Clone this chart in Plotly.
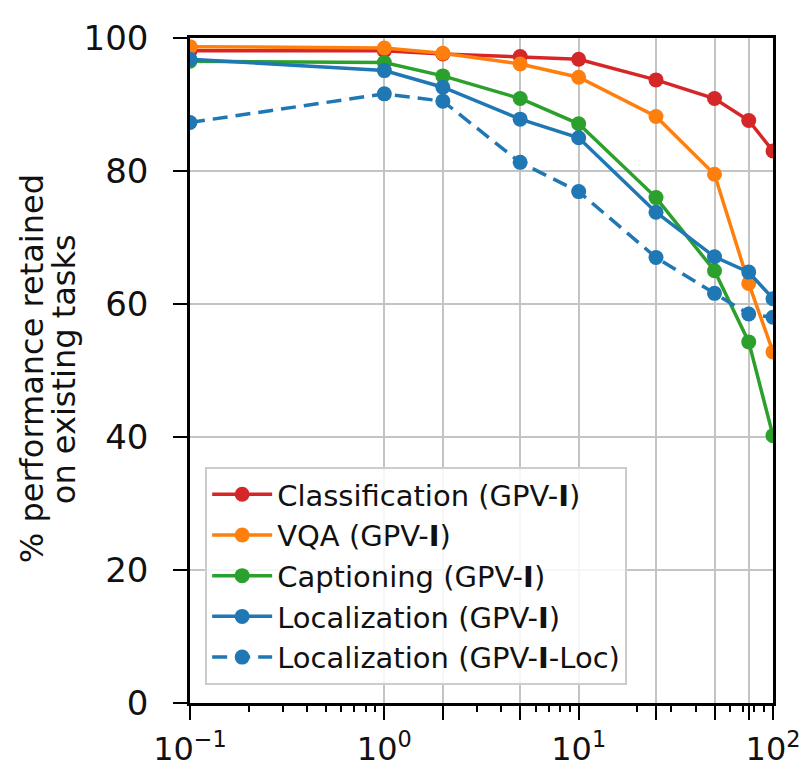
import plotly.graph_objects as go

# ---- data ----
x_vals = [0.1, 1, 2, 5, 10, 25, 50, 75, 100]
classification = [98.1, 98.1, 97.6, 97.2, 96.8, 93.7, 90.9, 87.6, 83.0]
vqa = [98.7, 98.5, 97.7, 96.1, 94.1, 88.2, 79.5, 63.1, 52.8]
captioning = [96.5, 96.3, 94.3, 90.9, 87.1, 76.0, 65.0, 54.3, 40.2]
localization = [96.8, 95.1, 92.6, 87.8, 85.0, 73.8, 67.1, 64.8, 60.8]
localization_loc = [87.3, 91.6, 90.5, 81.3, 76.9, 67.0, 61.6, 58.5, 58.0]

series_names = [
    "Classification (GPV-<b>I</b>)",
    "VQA (GPV-<b>I</b>)",
    "Captioning (GPV-<b>I</b>)",
    "Localization (GPV-<b>I</b>)",
    "Localization (GPV-<b>I</b>-Loc)",
]
series_values = [classification, vqa, captioning, localization, localization_loc]
series_colors = ["#d62728", "#ff7f0e", "#2ca02c", "#1f77b4", "#1f77b4"]
series_dash = ["solid", "solid", "solid", "solid", "15px,8px"]

x_decade_ticks = [0.1, 1, 10, 100]
x_decade_text = ["10<sup>−1</sup>", "10<sup>0</sup>", "10<sup>1</sup>", "10<sup>2</sup>"]
x_unlabeled_major = [2, 5, 25, 50, 75]
x_minor_ticks = [0.2, 0.3, 0.4, 0.5, 0.6, 0.7, 0.8, 0.9,
                 3, 4, 6, 7, 8, 9,
                 20, 30, 40, 60, 70, 80, 90]
y_ticks = [0, 20, 40, 60, 80, 100]
y_title_lines = ["% performance retained", "on existing tasks"]

FONT = "DejaVu Sans"
TXT = "#111111"

fig = go.Figure()
for name, vals, col, dash in zip(series_names, series_values, series_colors, series_dash):
    fig.add_trace(go.Scatter(
        x=x_vals, y=vals, name=name, mode="lines+markers",
        line=dict(color=col, width=3.5, dash=dash),
        marker=dict(color=col, size=15),
    ))

# invisible helper trace that carries the short minor-tick axis
fig.add_trace(go.Scatter(
    x=x_vals, y=classification, xaxis="x2", mode="markers",
    marker=dict(opacity=0), showlegend=False, hoverinfo="skip",
))

title_x = [-0.2710, -0.2161]
annotations = [
    dict(text=t, xref="paper", yref="paper", x=xp, y=0.502,
         xanchor="center", yanchor="middle", textangle=-90, showarrow=False,
         font=dict(family=FONT, size=32, color=TXT))
    for t, xp in zip(y_title_lines, title_x)
]

fig.update_layout(
    width=799, height=761,
    margin=dict(l=182, r=34, t=30, b=66),
    paper_bgcolor="white", plot_bgcolor="white",
    font=dict(family=FONT, color=TXT),
    showlegend=True,
    legend=dict(
        x=0.026, y=0.355, xanchor="left", yanchor="top",
        bgcolor="rgba(255,255,255,0.85)", bordercolor="#cccccc", borderwidth=2,
        font=dict(family=FONT, size=29, color=TXT),
        itemwidth=60,
    ),
    xaxis2=dict(
        type="log", range=[-1, 2], overlaying="x", side="bottom",
        anchor="y", automargin=False,
        tickmode="array", tickvals=x_minor_ticks,
        ticks="outside", ticklen=8, tickwidth=2, tickcolor="black",
        showticklabels=False, showgrid=False, showline=False, zeroline=False,
    ),
    annotations=annotations,
)

fig.layout.xaxis.update(
    type="log", range=[-1, 2], automargin=False,
    tickmode="array", tickvals=x_decade_ticks, ticktext=x_decade_text,
    ticks="outside", ticklen=14, tickwidth=2, tickcolor="black",
    tickfont=dict(family=FONT, size=32, color=TXT),
    ticklabelstandoff=2,
    showgrid=True, gridcolor="#c4c4c4", gridwidth=1.5,
    showline=True, linecolor="black", linewidth=2.5, mirror=True,
    zeroline=False,
    minor=dict(tickmode="array", tickvals=x_unlabeled_major, ticks="outside",
               ticklen=14, tickwidth=2, tickcolor="black",
               showgrid=True, gridcolor="#c4c4c4", gridwidth=1.5),
)

fig.update_yaxes(
    range=[0, 100], automargin=False,
    tickmode="array", tickvals=y_ticks,
    ticks="outside", ticklen=14, tickwidth=2, tickcolor="black",
    tickfont=dict(family=FONT, size=34, color=TXT),
    ticklabelstandoff=18,
    showgrid=True, gridcolor="#c4c4c4", gridwidth=1.5,
    showline=True, linecolor="black", linewidth=2.5, mirror=True,
    zeroline=False,
)

fig.write_html("out.html")
